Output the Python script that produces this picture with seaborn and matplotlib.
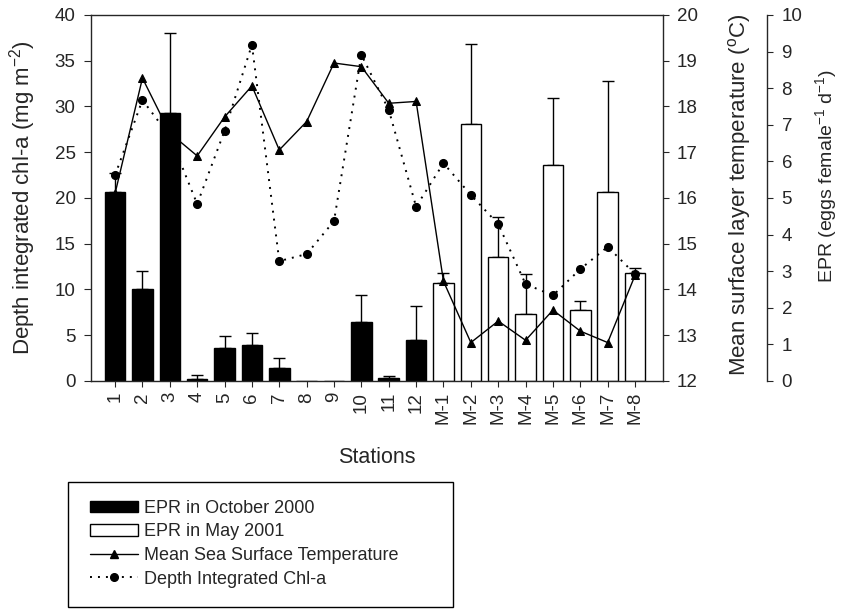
import numpy as np
import pandas as pd
import matplotlib
matplotlib.use("Agg")
import matplotlib.pyplot as plt
import seaborn as sns
from matplotlib.patches import Patch, Rectangle
from matplotlib.lines import Line2D

# ---------------- data ----------------
stations = ["1", "2", "3", "4", "5", "6", "7", "8", "9", "10", "11", "12",
            "M-1", "M-2", "M-3", "M-4", "M-5", "M-6", "M-7", "M-8"]
campaign = ["EPR in October 2000"] * 12 + ["EPR in May 2001"] * 8
epr = [5.15, 2.52, 7.32, 0.05, 0.91, 0.97, 0.36, 0.0, 0.0, 1.61, 0.07, 1.13,
       2.67, 7.01, 3.39, 1.82, 5.90, 1.94, 5.15, 2.94]
epr_upper = [5.69, 3.01, 9.50, 0.16, 1.24, 1.31, 0.64, np.nan, np.nan, 2.34, 0.15, 2.06,
             2.94, 9.22, 4.48, 2.93, 7.74, 2.19, 8.20, 3.10]
temperature = [16.10, 18.62, 17.42, 16.92, 17.77, 18.45, 17.05, 17.67, 18.95, 18.87,
               18.07, 18.11, 14.18, 12.84, 13.31, 12.89, 13.55, 13.09, 12.84, 14.31]
chl = [22.5, 30.7, 26.75, 19.34, 27.33, 36.75, 13.1, 13.87, 17.48, 35.65, 29.63, 19.05,
       23.8, 20.33, 17.15, 10.59, 9.35, 12.23, 14.67, 11.68]
chl_ticks = [0, 5, 10, 15, 20, 25, 30, 35, 40]
temp_ticks = [12, 13, 14, 15, 16, 17, 18, 19, 20]
epr_ticks = [0, 1, 2, 3, 4, 5, 6, 7, 8, 9, 10]

# ---------------- style ----------------
sns.set_style("ticks")
plt.rcParams["font.family"] = ["Liberation Sans", "DejaVu Sans"]
plt.rcParams["mathtext.fontset"] = "custom"
plt.rcParams["mathtext.rm"] = "Liberation Sans"
plt.rcParams["mathtext.default"] = "regular"
plt.rcParams["axes.linewidth"] = 1.0
plt.rcParams["xtick.major.size"] = 4
plt.rcParams["ytick.major.size"] = 4

TICK_FS = 13.5
LAB_FS = 16

fig = plt.figure(figsize=(8.41, 6.09), dpi=100)
ax = fig.add_axes([0.1082, 0.3744, 0.6801, 0.601])

df = pd.DataFrame({"station": stations, "epr": epr, "campaign": campaign})
sns.barplot(data=df, x="station", y="epr", hue="campaign",
            palette={"EPR in October 2000": "black", "EPR in May 2001": "white"},
            edgecolor="black", linewidth=1.0, dodge=False, width=0.75,
            errorbar=None, legend=False, ax=ax, zorder=2)

epr_a = np.array(epr)
up_a = np.array(epr_upper)
mask = ~np.isnan(up_a)
ax.errorbar(np.array(stations)[mask], epr_a[mask],
            yerr=[np.zeros(mask.sum()), (up_a - epr_a)[mask]],
            fmt="none", ecolor="black", elinewidth=1.0, capsize=4.5, capthick=1.0, zorder=1)

# chl axis (left)
ax_chl = ax.twinx()
sns.pointplot(x=stations, y=chl, ax=ax_chl, color="black", marker="o", markersize=5.5,
              linestyle=(0, (1, 3.1)), linewidth=1.4, errorbar=None)

# temperature axis (inner right)
ax_t = ax.twinx()
sns.pointplot(x=stations, y=temperature, ax=ax_t, color="black", marker="^", markersize=6,
              linestyle="-", linewidth=1.0, errorbar=None)

# --- EPR axis (outer right), set after twins
ax.set_ylim(0, 10)
ax.set_yticks(epr_ticks)
ax.yaxis.tick_right()
ax.yaxis.set_label_position("right")
ax.spines["right"].set_position(("outward", 74.9))
ax.tick_params(axis="y", labelsize=TICK_FS, pad=6.5, length=4)
ax.set_ylabel("EPR (eggs female$^{-1}$ d$^{-1}$)", fontsize=14)
ax.yaxis.set_label_coords(1.262, 0.56)

# --- chl axis
ax_chl.yaxis.tick_left()
ax_chl.yaxis.set_label_position("left")
for s in ax_chl.spines.values():
    s.set_visible(False)
ax_chl.set_ylim(0, 40)
ax_chl.set_yticks(chl_ticks)
ax_chl.tick_params(axis="y", labelsize=TICK_FS, pad=6, length=5)
ax_chl.set_ylabel("Depth integrated chl-a (mg m$^{-2}$)", fontsize=LAB_FS)
ax_chl.yaxis.set_label_coords(-0.093, 0.5)

# --- temperature axis
for k in ["left", "top", "bottom"]:
    ax_t.spines[k].set_visible(False)
ax_t.set_ylim(12, 20)
ax_t.set_yticks(temp_ticks)
ax_t.tick_params(axis="y", labelsize=TICK_FS, pad=5.5, length=4.5)
ax_t.set_ylabel("Mean surface layer temperature ($^{o}$C)", fontsize=LAB_FS)
ax_t.yaxis.set_label_coords(1.110, 0.508)

# x axis
ax.set_xlim(-0.88, 20.02)
ax.set_xticks(range(len(stations)))
ax.set_xticklabels(stations, rotation=90, fontsize=TICK_FS)
ax.tick_params(axis="x", length=4.5)
ax.set_xlabel("Stations", fontsize=15.5, labelpad=16)
for a in (ax_chl, ax_t):
    a.set_xlabel("")

# legend
handles = [
    Patch(facecolor="black", edgecolor="black", label="EPR in October 2000"),
    Patch(facecolor="white", edgecolor="black", label="EPR in May 2001"),
    Line2D([], [], color="black", lw=1.0, marker="^", markersize=6,
           label="Mean Sea Surface Temperature"),
    Line2D([], [], color="black", lw=1.4, linestyle=(0, (1, 3.1)), marker="o",
           markersize=5.5, label="Depth Integrated Chl-a"),
]
fig.legend(handles=handles, loc="upper left", bbox_to_anchor=(90 / 841, 0.1796),
           frameon=False, fontsize=13, handlelength=2.65, handletextpad=0.35,
           handleheight=0.6, labelspacing=0.367, borderaxespad=0, borderpad=0,
           numpoints=1)
fig.patches.append(Rectangle((68 / 841, 2 / 609), 385 / 841, 125 / 609,
                             transform=fig.transFigure, fill=False,
                             edgecolor="black", linewidth=1.0))

fig.savefig("out.png", dpi=100)
